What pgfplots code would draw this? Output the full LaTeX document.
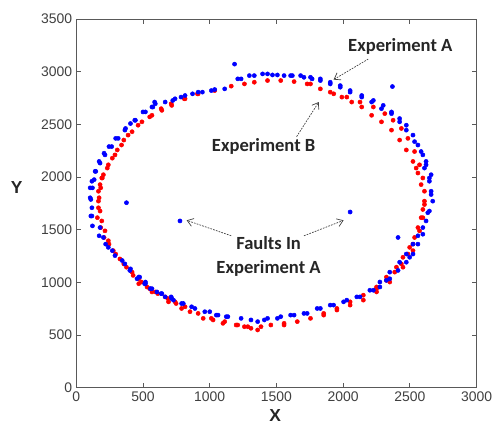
\documentclass[border=0pt]{standalone}
\usepackage{fontspec}
\setmainfont{Liberation Sans}
\newfontfamily\calfont{Carlito}
\usepackage{pgfplots}
\pgfplotsset{compat=1.18}
\usetikzlibrary{arrows.meta}

\begin{document}
\begin{tikzpicture}
\begin{axis}[
    width=12.12cm, height=11.16cm, scale only axis,
    xmin=0, xmax=3000, ymin=0, ymax=3500,
    xtick={0,500,...,3000}, ytick={0,500,...,3500},
    tick align=inside, major tick length=0.15cm,
    axis line style={black!65, line width=0.9pt},
    tick style={black!65, line width=0.8pt},
    tick label style={font=\fontsize{12}{14}\selectfont, text=black!75},
    /pgf/number format/1000 sep={},
    /pgf/number format/assume math mode=true,
    xlabel={X}, ylabel={Y},
    label style={font=\fontsize{15}{17}\selectfont\bfseries, text=black!85},
    xlabel style={at={(axis description cs:0.497,-0.076)}, anchor=center},
    ylabel style={at={(axis description cs:-0.149,0.542)}, anchor=center, rotate=-90},
    clip=false,
]
% Experiment B
\addplot[only marks, mark=*, mark size=1.8pt, color=red] coordinates {
    (1260,2885) (1161,2864) (1037,2822) (913,2791) (908,2791) (815,2744) (809,2744)
    (715,2681) (711,2697) (641,2634) (636,2650) (567,2587) (550,2572) (492,2525)
    (463,2493) (418,2431) (388,2399) (356,2352) (339,2305) (307,2258) (290,2211)
    (270,2180) (240,2117) (232,2086) (203,2023) (195,1992) (191,1992) (183,1898)
    (178,1929) (166,1866) (171,1804) (166,1772) (166,1709) (178,1678) (158,1615)
    (191,1584) (183,1521) (215,1490) (208,1427) (240,1396) (245,1364) (277,1302)
    (295,1270) (327,1223) (356,1176) (376,1145) (418,1098) (426,1067) (468,1035)
    (488,1004) (468,988) (530,957) (550,941) (567,910) (592,910) (611,894)
    (666,863) (686,847) (691,816) (740,816) (748,800) (815,769) (789,753)
    (852,722) (913,706) (951,659) (1012,659) (1025,644) (1099,612) (1112,628)
    (1198,596) (1210,596) (1260,580) (1285,580) (1309,565) (1359,549) (1384,580)
    (1458,596) (1557,612) (1557,596) (1656,628) (1755,659) (1854,706) (1854,690)
    (1953,753) (1953,738) (2052,816) (2052,785) (2151,879) (2151,832) (2250,957)
    (2250,910) (2250,941) (2324,1051) (2324,1020) (2349,1004) (2386,1098)
    (2399,1145) (2436,1176) (2448,1239) (2448,1145) (2485,1270) (2498,1333)
    (2523,1302) (2523,1364) (2535,1427) (2572,1490) (2560,1521) (2584,1615)
    (2597,1615) (2597,1693) (2609,1740) (2609,1772) (2609,1866) (2584,1929)
    (2597,1992) (2560,2039) (2547,2086) (2572,2117) (2523,2149) (2535,2243)
    (2473,2258) (2423,2352) (2485,2368) (2362,2446) (2436,2462) (2287,2525)
    (2374,2540) (2213,2587) (2312,2603) (2139,2666) (2226,2666) (2064,2713)
    (2126,2713) (1990,2760) (2027,2760) (1903,2807) (1929,2791) (1829,2838)
    (1755,2885) (1730,2885) (1632,2907) (1532,2917) (1433,2917) (1334,2901)
};
% Experiment A
\addplot[only marks, mark=*, mark size=1.8pt, color=blue] coordinates {
    (1210,2933) (1112,2838) (1037,2832) (1012,2822) (945,2807) (913,2807)
    (871,2791) (815,2775) (785,2760) (740,2744) (723,2728) (666,2713) (587,2713)
    (592,2697) (574,2666) (567,2666) (518,2619) (500,2619) (443,2540) (438,2540)
    (406,2509) (369,2462) (364,2446) (314,2368) (295,2368) (265,2290) (245,2290)
    (215,2211) (208,2227) (178,2133) (171,2149) (141,2055) (146,2055) (117,1961)
    (134,1976) (104,1898) (121,1898) (104,1804) (109,1788) (117,1709) (117,1631)
    (109,1631) (121,1537) (178,1521) (171,1443) (203,1427) (220,1364) (240,1333)
    (270,1302) (290,1255) (344,1208) (364,1176) (406,1129) (401,1114) (468,1051)
    (475,1051) (455,1035) (518,988) (512,988) (518,1004) (567,941) (555,941)
    (604,910) (641,894) (636,894) (666,863) (711,863) (715,847) (728,832)
    (789,800) (802,800) (864,769) (889,753) (963,722) (1000,722) (1049,690)
    (1062,690) (1124,675) (1136,675) (1235,659) (1309,644) (1359,628) (1409,644)
    (1433,659) (1507,659) (1532,675) (1606,690) (1632,690) (1706,706) (1730,706)
    (1805,753) (1829,753) (1903,785) (1928,785) (2003,816) (2027,832) (2102,863)
    (2126,863) (2200,926) (2226,926) (2275,1004) (2275,957) (2324,1020)
    (2349,1035) (2349,1098) (2411,1114) (2423,1192) (2473,1192) (2473,1270)
    (2498,1239) (2523,1270) (2523,1364) (2560,1364) (2560,1443) (2597,1458)
    (2597,1521) (2621,1584) (2634,1662) (2646,1678) (2671,1772) (2659,1835)
    (2659,1866) (2646,1961) (2646,1992) (2659,2023) (2609,2086) (2621,2117)
    (2621,2149) (2597,2211) (2584,2243) (2560,2305) (2535,2337) (2523,2399)
    (2473,2446) (2473,2493) (2423,2525) (2423,2556) (2362,2603) (2362,2619)
    (2287,2650) (2300,2681) (2213,2713) (2226,2728) (2139,2760) (2139,2775)
    (2052,2807) (2052,2822) (1978,2854) (1978,2869) (1903,2885) (1903,2901)
    (1829,2917) (1829,2933) (1767,2933) (1755,2948) (1706,2948) (1681,2964)
    (1619,2964) (1606,2964) (1557,2964) (1507,2970) (1470,2970) (1433,2980)
    (1396,2980) (1334,2964) (1297,2964) (1235,2933)
};
% faults in experiment A
\addplot[only marks, mark=*, mark size=1.8pt, color=blue] coordinates {
    (1186,3073) (2369,2860) (376,1757) (777,1584) (2052,1669) (2411,1427)
};
\tikzset{note/.style={font=\calfont\bfseries\fontsize{16}{21}\selectfont, text=black!85},
         ann/.style={black!75, line width=0.6pt, dash pattern=on 1.5pt off 1pt,
                     -{Straight Barb[length=5pt,width=7pt]}}}
\node[note] at (axis cs:2428,3238) {Experiment A};
\draw[ann] (axis cs:2188,3121) -- (axis cs:1928,2926);
\node[note] at (axis cs:1404,2292) {Experiment B};
\draw[ann] (axis cs:1651,2384) -- (axis cs:1817,2713);
\node[note, align=center] at (axis cs:1441,1248) {Faults In\\Experiment A};
\draw[ann] (axis cs:1161,1443) -- (axis cs:827,1590);
\draw[ann] (axis cs:1706,1443) -- (axis cs:2003,1590);
\end{axis}
\path (current axis.south west) ++(-2.31cm,-1.21cm);
\path (current axis.north east) ++(0.45cm,0.58cm);
\end{tikzpicture}
\end{document}
